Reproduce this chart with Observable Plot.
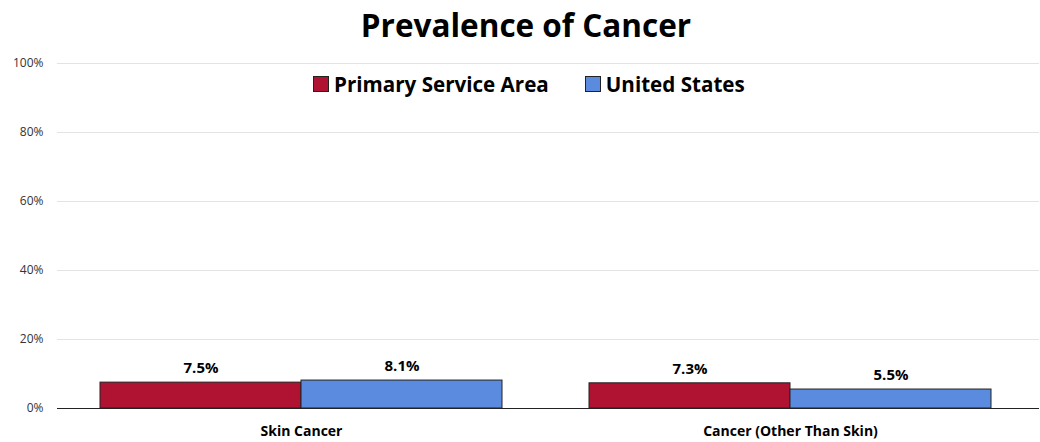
<!DOCTYPE html>
<html>
<head>
<meta charset="utf-8">
<script src="https://cdn.jsdelivr.net/npm/d3@7"></script>
<script src="https://cdn.jsdelivr.net/npm/@observablehq/plot@0.6"></script>
<style>
  body { margin: 0; background: #fff; font-family: "Open Sans", sans-serif; }
  #wrap { position: relative; width: 1040px; height: 442px; }
  #title { height: 50px; line-height: 50px; text-align: center; font-size: 31.5px; font-weight: 700; color: #000; padding-left: 12px; }
  #legend { position: absolute; top: 70px; left: 313px; display: flex; align-items: center; font-size: 20.6px; font-weight: 700; color: #000; }
  .item { display: flex; align-items: center; margin-right: 36px; }
  .sw { width: 14px; height: 14px; border: 1.5px solid #222; margin-right: 5px; }
</style>
</head>
<body>
<div id="wrap">
  <div id="title">Prevalence of Cancer</div>
  <div id="chart"></div>
  <div id="legend"></div>
</div>
<script>
const categories = ["Skin Cancer", "Cancer (Other Than Skin)"];
const seriesNames = ["Primary Service Area", "United States"];
const primaryValues = [7.5, 7.3];
const usValues = [8.1, 5.5];
const yTicks = [0, 20, 40, 60, 80, 100];
const colors = ["#B01232", "#5B8BDF"];

const data = [];
categories.forEach((c, i) => {
  data.push({category: c, series: seriesNames[0], value: primaryValues[i]});
  data.push({category: c, series: seriesNames[1], value: usValues[i]});
});

const chart = Plot.plot({
  width: 1040,
  height: 392,
  marginTop: 13,
  marginBottom: 34,
  marginLeft: 57,
  marginRight: 0,
  style: {fontFamily: "Open Sans", fontSize: "12px", color: "#333", background: "#fff"},
  fx: {domain: categories, paddingInner: 0.178, paddingOuter: 0.093, align: 0.47, label: null},
  x: {domain: seriesNames, padding: 0, axis: null},
  y: {domain: [0, 100], label: null},
  color: {domain: seriesNames, range: colors},
  marks: [
    Plot.ruleY(yTicks.filter(d => d > 0), {stroke: "#e3e3e3", strokeWidth: 1, insetLeft: -43, insetRight: -48}),
    Plot.axisY({ticks: yTicks, tickFormat: d => d + "%", tickSize: 0, tickPadding: 57, label: null, fontSize: 12, fill: "#333"}),
    Plot.axisFx({anchor: "bottom", tickSize: 0, tickPadding: 18, label: null, fontSize: 14, fontWeight: "bold", fill: "#000"}),
    Plot.barY(data, {fx: "category", x: "series", y: "value", fill: "series", stroke: "#222", strokeWidth: 1}),
    Plot.text(data, {fx: "category", x: "series", y: "value", text: d => d.value.toFixed(1) + "%", dy: -14, fontSize: 15, fontWeight: "bold", fill: "#000"}),
    Plot.ruleY([0], {stroke: "#222", strokeWidth: 1, insetLeft: -43, insetRight: -48})
  ]
});
document.getElementById("chart").appendChild(chart);

const legend = document.getElementById("legend");
seriesNames.forEach((s, i) => {
  const item = document.createElement("div");
  item.className = "item";
  const sw = document.createElement("span");
  sw.className = "sw";
  sw.style.background = colors[i];
  const t = document.createElement("span");
  t.textContent = s;
  item.appendChild(sw);
  item.appendChild(t);
  legend.appendChild(item);
});
</script>
</body>
</html>
